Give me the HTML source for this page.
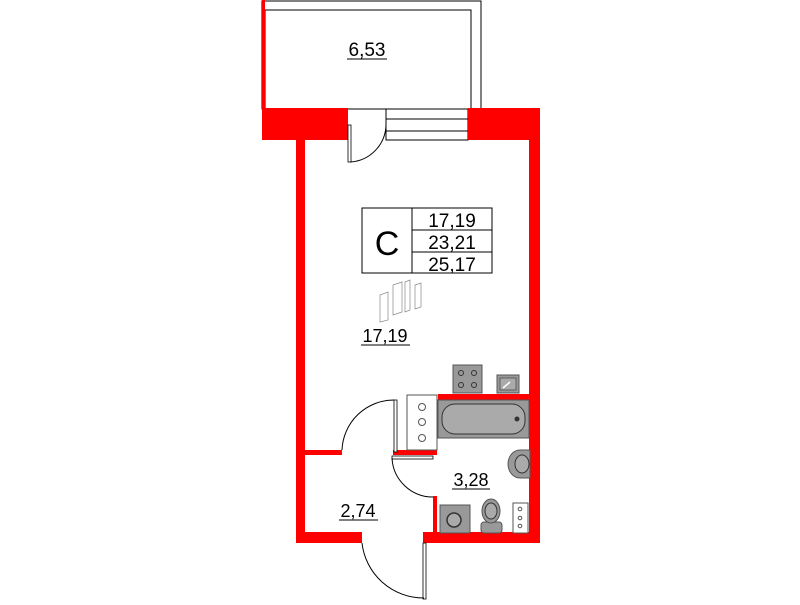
<!DOCTYPE html>
<html><head><style>
body{margin:0;background:#fff;width:800px;height:600px;overflow:hidden;font-family:"Liberation Sans",sans-serif}
</style></head><body>
<svg width="800" height="600" viewBox="0 0 800 600" xmlns="http://www.w3.org/2000/svg" font-family="Liberation Sans, sans-serif">
<rect x="262" y="1" width="219" height="108" fill="none" stroke="#000" stroke-width="1"/>
<polyline points="265,109 265,10 471,10 471,109" fill="none" stroke="#000"/>
<rect x="262" y="0" width="3" height="109" fill="#f00"/>
<text x="367" y="56" font-size="19" text-anchor="middle">6,53</text>
<line x1="347" y1="59" x2="387" y2="59" stroke="#000"/>
<rect x="386" y="109" width="82" height="31" fill="#fff" stroke="#000"/>
<line x1="386" y1="119" x2="468" y2="119" stroke="#000"/>
<line x1="386" y1="131" x2="468" y2="131" stroke="#000"/>
<g fill="#f00">
<rect x="262" y="108" width="86" height="32"/>
<rect x="468" y="108" width="72" height="32"/>
<rect x="296" y="140" width="9" height="403"/>
<rect x="529" y="140" width="11" height="403"/>
<rect x="296" y="532" width="66" height="11"/>
<rect x="423" y="532" width="117" height="11"/>
<rect x="296" y="450" width="46" height="5"/>
<rect x="438" y="394" width="92" height="6"/>
<rect x="393" y="450" width="44" height="5"/>
<rect x="433" y="496" width="4" height="37"/>
</g>
<rect x="348" y="125" width="3" height="37" fill="#fff" stroke="#000" stroke-width="0.8"/>
<path d="M350,162 A38,38 0 0 0 386,125" fill="none" stroke="#000"/>
<rect x="394" y="400" width="3" height="52" fill="#fff" stroke="#000" stroke-width="0.8"/>
<path d="M342,450 A52,52 0 0 1 394,400" fill="none" stroke="#000"/>
<rect x="392" y="456" width="41" height="3" fill="#fff" stroke="#000" stroke-width="0.8"/>
<path d="M392,458 A41,41 0 0 0 433,497" fill="none" stroke="#000"/>
<rect x="423" y="543" width="3" height="56" fill="#fff" stroke="#000" stroke-width="0.8"/>
<path d="M362,543 A62,62 0 0 0 424,598" fill="none" stroke="#000"/>
<rect x="362" y="208" width="130" height="65" fill="#fff" stroke="#000"/>
<line x1="412" y1="208" x2="412" y2="273" stroke="#000"/>
<line x1="412" y1="230" x2="492" y2="230" stroke="#000"/>
<line x1="412" y1="252" x2="492" y2="252" stroke="#000"/>
<text x="387" y="255" font-size="34" text-anchor="middle">C</text>
<text x="452" y="227" font-size="19" text-anchor="middle">17,19</text>
<text x="452" y="249" font-size="19" text-anchor="middle">23,21</text>
<text x="452" y="271" font-size="19" text-anchor="middle">25,17</text>
<g fill="none" stroke="#888" stroke-width="0.7">
<path d="M380,295 L388,292 L388,320 L380,322 Z"/>
<path d="M393,285 L402,282 L402,312 L393,315 Z"/>
<path d="M405,282 L410,280 L410,310 L405,312 Z"/>
<path d="M415,285 L421,283 L421,307 L415,309 Z"/>
</g>
<text x="385" y="342" font-size="18" text-anchor="middle">17,19</text>
<line x1="361" y1="345" x2="410" y2="345" stroke="#000"/>
<text x="471" y="486" font-size="18" text-anchor="middle">3,28</text>
<line x1="452" y1="489" x2="490" y2="489" stroke="#000"/>
<text x="358" y="517" font-size="18" text-anchor="middle">2,74</text>
<line x1="339" y1="520" x2="378" y2="520" stroke="#000"/>
<rect x="453" y="365" width="29" height="28" fill="#999" stroke="#555"/>
<g fill="none" stroke="#333"><circle cx="461" cy="373" r="2.5"/><circle cx="474" cy="373" r="2.5"/><circle cx="461" cy="385" r="2.5"/><circle cx="474" cy="385" r="2.5"/></g>
<rect x="497" y="375" width="22" height="18" fill="#999" stroke="#555"/>
<rect x="500" y="378" width="16" height="12" fill="#aaa" stroke="#333" stroke-width="0.6"/>
<path d="M503,388 L510,382" stroke="#fff" stroke-width="1.5"/>
<rect x="407" y="395" width="30" height="55" fill="#fff" stroke="#555"/>
<g fill="none" stroke="#555"><circle cx="422" cy="407" r="3.5"/><circle cx="422" cy="422" r="3.5"/><circle cx="422" cy="438" r="3.5"/></g>
<rect x="438" y="400" width="91" height="38" fill="#999" stroke="#555"/>
<rect x="442" y="404" width="83" height="30" rx="13" fill="#aaa" stroke="#333"/>
<circle cx="517" cy="419" r="2.5" fill="#333"/>
<path d="M530,450 L520,450 A12,14 0 0 0 520,478 L530,478 Z" fill="#999" stroke="#555"/>
<ellipse cx="522" cy="464" rx="7" ry="9" fill="#aaa" stroke="#333"/>
<rect x="440" y="505" width="30" height="28" fill="#999" stroke="#555"/>
<circle cx="454" cy="520" r="7" fill="#aaa" stroke="#333" stroke-width="1.5"/>
<rect x="481" y="522" width="21" height="11" rx="3" fill="#999" stroke="#555"/>
<ellipse cx="491" cy="511" rx="9" ry="12" fill="#999" stroke="#555"/>
<ellipse cx="491" cy="511" rx="6" ry="8" fill="#aaa" stroke="#333"/>
<rect x="513" y="503" width="15" height="30" fill="#fff" stroke="#555"/>
<g fill="none" stroke="#555"><circle cx="520" cy="509" r="1.8"/><circle cx="520" cy="518" r="1.8"/><circle cx="520" cy="526" r="1.8"/></g>
</svg>
</body></html>
